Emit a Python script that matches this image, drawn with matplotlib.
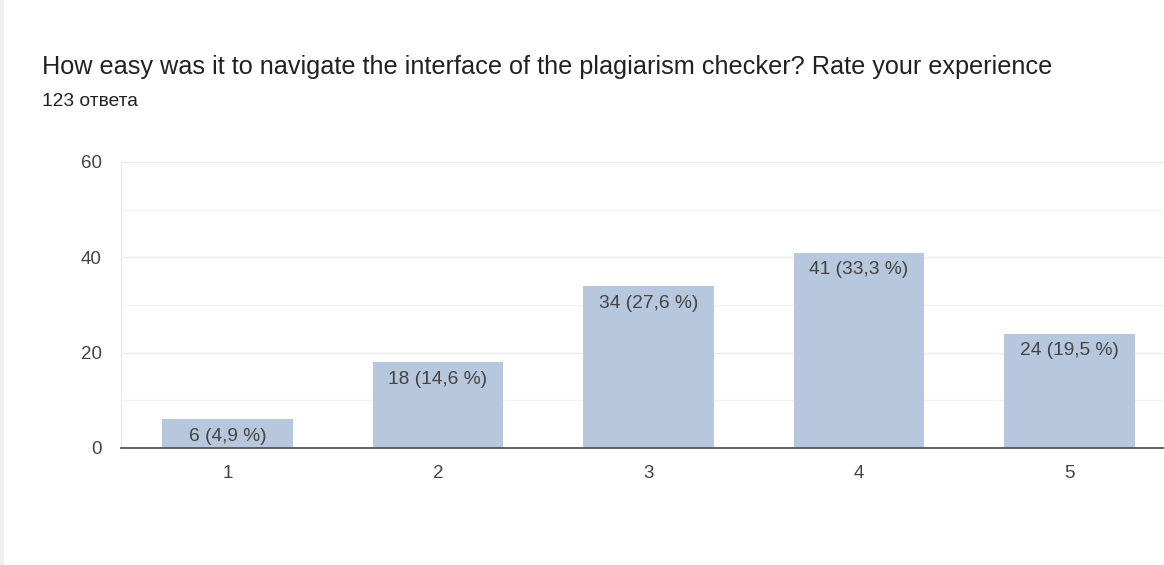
import matplotlib
matplotlib.use('Agg')
from matplotlib import pyplot as plt
import matplotlib.patches as mpatches

plt.rcParams['font.family'] = ['Liberation Sans', 'DejaVu Sans']

categories = ['1', '2', '3', '4', '5']
counts = [6, 18, 34, 41, 24]
labels = ['6 (4,9 %)', '18 (14,6 %)', '34 (27,6 %)', '41 (33,3 %)', '24 (19,5 %)']
title = "How easy was it to navigate the interface of the plagiarism checker? Rate your experience"
subtitle = "123 ответа"

W, H = 1164, 565
fig = plt.figure(figsize=(W / 100, H / 100), dpi=100)
fig.patch.set_facecolor('white')

# faint card border on the left
fig.patches.append(mpatches.Rectangle((0, 0), 4 / W, 1, transform=fig.transFigure,
                                      facecolor='#f0f0f0', edgecolor='none'))

# axes from x=121 to 1164, y from 162 (60) to 448 (0)
ax = fig.add_axes([121 / W, 1 - 448 / H, (1164 - 121) / W, (448 - 162) / H])
x = list(range(1, len(categories) + 1))
ax.bar(x, counts, width=0.62, color='#b7c7dd', zorder=2)

ax.set_xlim(0.494, 5.449)
ax.set_ylim(0, 60)
ax.set_yticks([0, 20, 40, 60])
ax.set_yticks([10, 30, 50], minor=True)
ax.set_xticks(x)
ax.set_xticklabels(categories)
ax.grid(axis='y', which='major', color='#ebebeb', linewidth=1, zorder=0)
ax.grid(axis='y', which='minor', color='#f3f3f3', linewidth=1, zorder=0)
ax.tick_params(axis='both', which='both', length=0, labelsize=13.5, labelcolor='#444444')
ax.tick_params(axis='y', pad=14)
ax.tick_params(axis='x', pad=12)

for s in ['top', 'right']:
    ax.spines[s].set_visible(False)
ax.spines['left'].set_color('#ebebeb')
ax.spines['bottom'].set_color('#555555')
ax.spines['bottom'].set_linewidth(1.3)
ax.spines['bottom'].set_zorder(3)

for xi, c, lab in zip(x, counts, labels):
    ax.annotate(lab, (xi, c), xytext=(0, -12.5), textcoords='offset points',
                ha='center', va='center', fontsize=13.8, color='#444444', zorder=4)

fig.text(42 / W, 1 - 67 / H, title, fontsize=18.2, color='#202124', va='center', ha='left')
fig.text(42 / W, 1 - 102 / H, subtitle, fontsize=13.8, color='#202124', va='center', ha='left')

fig.savefig('out.png', dpi=100)
